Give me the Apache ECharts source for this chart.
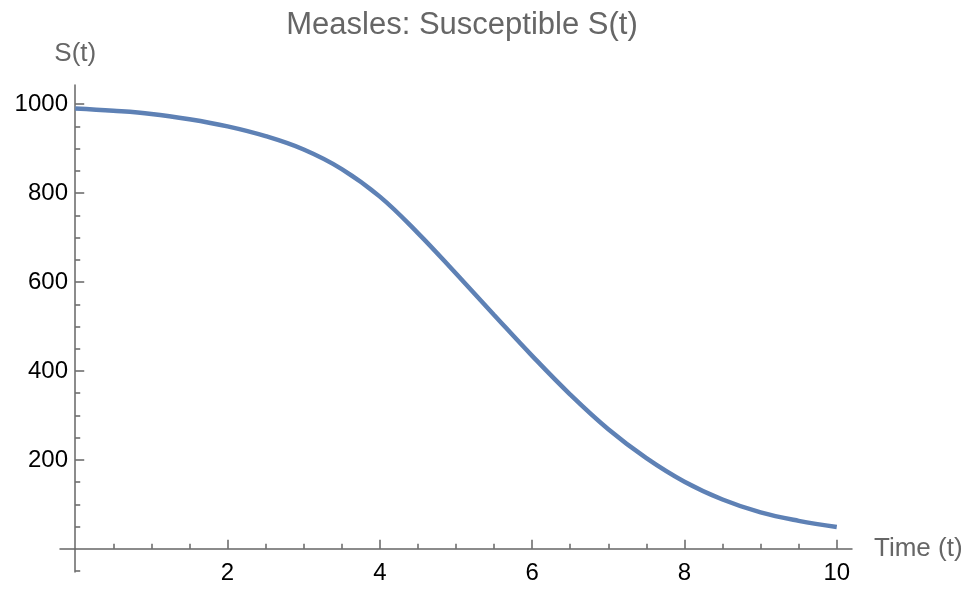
<!DOCTYPE html>
<html>
<head>
<meta charset="utf-8">
<script src="https://cdn.jsdelivr.net/npm/echarts@6/dist/echarts.min.js"></script>
<style>
html,body{margin:0;padding:0;background:#fff;}
#chart{width:970px;height:592px;}
</style>
</head>
<body>
<div id="chart"></div>
<script>
var timeValues = [0, 0.5, 1, 1.5, 2, 2.5, 3, 3.5, 4, 4.5, 5, 5.5, 6, 6.5, 7, 7.5, 8, 8.5, 9, 9.5, 10];
var susceptible = [990, 985, 978, 966, 950, 928, 898, 854, 792, 710, 619, 526, 434, 347, 269, 204, 151, 111, 82, 63, 49];
var xMajorTicks = [2, 4, 6, 8, 10];
var xMinorTicks = [0.5, 1, 1.5, 2.5, 3, 3.5, 4.5, 5, 5.5, 6.5, 7, 7.5, 8.5, 9, 9.5];
var yMajorTicks = [200, 400, 600, 800, 1000];
var yMinorTicks = [-50, 50, 100, 150, 250, 300, 350, 450, 500, 550, 650, 700, 750, 850, 900, 950];

var FONT = '"Liberation Sans", Arial, sans-serif';
var AXIS_COLOR = '#666666';

var seriesData = timeValues.map(function (t, i) { return [t, susceptible[i]]; });
function plain(v) { return String(v); }

var chart = echarts.init(document.getElementById('chart'), null, {renderer: 'canvas'});
chart.setOption({
  animation: false,
  backgroundColor: '#ffffff',
  title: {
    text: 'Measles: Susceptible S(t)',
    left: 457,
    textAlign: 'center',
    top: 5,
    textStyle: {color: '#666666', fontFamily: FONT, fontSize: 31, fontWeight: 'normal'}
  },
  grid: {left: 60, right: 118, top: 85, bottom: 20, containLabel: false, outerBoundsMode: 'none'},
  xAxis: [
    {
      type: 'value', min: -0.2, max: 10.2, position: 'bottom',
      name: 'Time (t)', nameLocation: 'end', nameGap: 22,
      nameTextStyle: {color: AXIS_COLOR, fontFamily: FONT, fontSize: 26, verticalAlign: 'middle'},
      axisLine: {show: true, onZero: true, onZeroAxisIndex: 0, lineStyle: {color: AXIS_COLOR, width: 1.5}},
      axisTick: {show: true, inside: true, length: 9, customValues: xMajorTicks, lineStyle: {color: AXIS_COLOR, width: 1.5}},
      axisLabel: {show: true, customValues: xMajorTicks, formatter: plain, color: '#000', fontFamily: FONT, fontSize: 24, margin: -11},
      splitLine: {show: false}
    },
    {
      type: 'value', min: -0.2, max: 10.2, position: 'bottom',
      axisLine: {show: false, onZero: true, onZeroAxisIndex: 0},
      axisTick: {show: true, inside: true, length: 5, customValues: xMinorTicks, lineStyle: {color: AXIS_COLOR, width: 1.5}},
      axisLabel: {show: false},
      splitLine: {show: false}
    }
  ],
  yAxis: [
    {
      type: 'value', min: -52, max: 1043, position: 'left',
      name: 'S(t)', nameLocation: 'end', nameGap: 18,
      nameTextStyle: {color: AXIS_COLOR, fontFamily: FONT, fontSize: 26},
      axisLine: {show: true, onZero: true, onZeroAxisIndex: 0, lineStyle: {color: AXIS_COLOR, width: 1.5}},
      axisTick: {show: true, inside: true, length: 9, customValues: yMajorTicks, lineStyle: {color: AXIS_COLOR, width: 1.5}},
      axisLabel: {show: true, customValues: yMajorTicks, formatter: plain, color: '#000', fontFamily: FONT, fontSize: 24, margin: -8},
      splitLine: {show: false}
    },
    {
      type: 'value', min: -52, max: 1043, position: 'left',
      axisLine: {show: false, onZero: true, onZeroAxisIndex: 0},
      axisTick: {show: true, inside: true, length: 5, customValues: yMinorTicks, lineStyle: {color: AXIS_COLOR, width: 1.5}},
      axisLabel: {show: false},
      splitLine: {show: false}
    }
  ],
  series: [
    {
      type: 'line',
      xAxisIndex: 0,
      yAxisIndex: 0,
      data: seriesData,
      smooth: 0.4,
      showSymbol: false,
      symbol: 'none',
      lineStyle: {color: '#5E81B5', width: 4.5},
      z: 5
    }
  ]
});
</script>
</body>
</html>
